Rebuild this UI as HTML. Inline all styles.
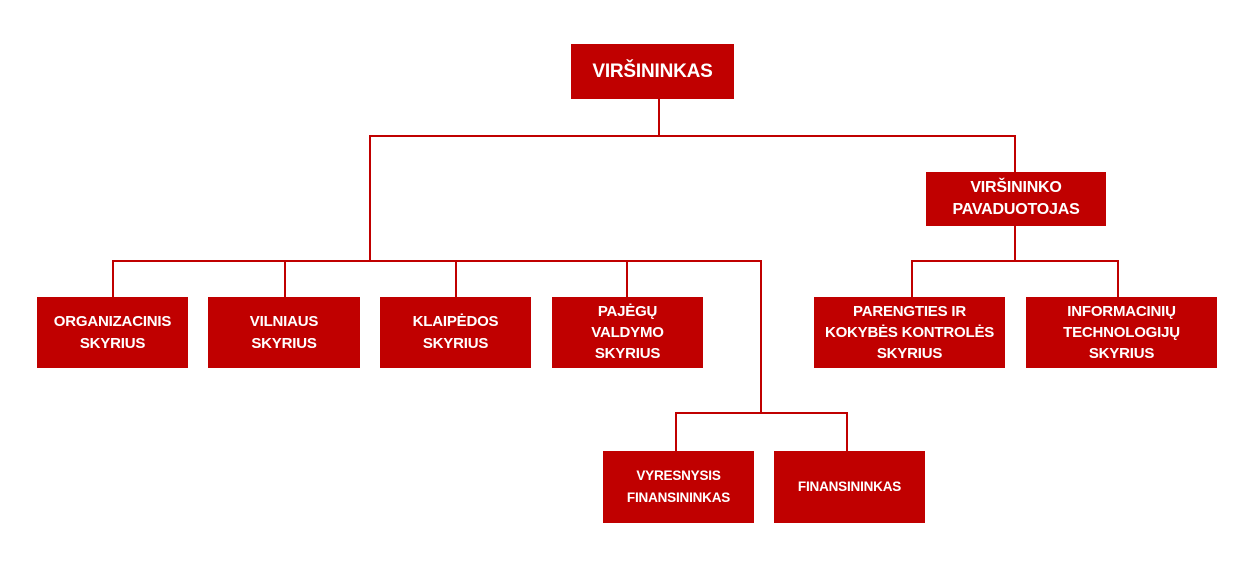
<!DOCTYPE html>
<html><head><meta charset="utf-8"><style>
body{margin:0;width:1250px;height:571px;background:#fff;position:relative;overflow:hidden;font-family:"Liberation Sans",sans-serif;}
.b{position:absolute;background:#c00000;color:#fff;font-weight:bold;font-size:15px;line-height:22px;display:flex;align-items:center;justify-content:center;text-align:center;box-sizing:border-box;letter-spacing:-0.2px;}
.t{line-height:21px;}
.h{position:absolute;background:#c00000;height:2px;}
.v{position:absolute;background:#c00000;width:2px;}
</style></head><body>
<div class="b" style="left:571px;top:44px;width:163px;height:55px;font-size:19px">VIRŠININKAS</div>
<div class="v" style="left:658px;top:99px;height:38px"></div>
<div class="h" style="left:369px;top:135px;width:647px"></div>
<div class="v" style="left:1014px;top:135px;height:37px"></div>
<div class="b" style="left:926px;top:172px;width:180px;height:54px;font-size:16px">VIRŠININKO<br>PAVADUOTOJAS</div>
<div class="v" style="left:1014px;top:226px;height:36px"></div>
<div class="h" style="left:911px;top:260px;width:208px"></div>
<div class="v" style="left:911px;top:260px;height:37px"></div>
<div class="v" style="left:1117px;top:260px;height:37px"></div>
<div class="v" style="left:369px;top:135px;height:127px"></div>
<div class="h" style="left:112px;top:260px;width:650px"></div>
<div class="v" style="left:112px;top:260px;height:37px"></div>
<div class="v" style="left:284px;top:260px;height:37px"></div>
<div class="v" style="left:455px;top:260px;height:37px"></div>
<div class="v" style="left:626px;top:260px;height:37px"></div>
<div class="v" style="left:760px;top:260px;height:154px"></div>
<div class="h" style="left:675px;top:412px;width:173px"></div>
<div class="v" style="left:675px;top:412px;height:39px"></div>
<div class="v" style="left:846px;top:412px;height:39px"></div>
<div class="b" style="left:37px;top:297px;width:151px;height:71px">ORGANIZACINIS<br>SKYRIUS</div>
<div class="b" style="left:208px;top:297px;width:152px;height:71px">VILNIAUS<br>SKYRIUS</div>
<div class="b" style="left:380px;top:297px;width:151px;height:71px">KLAIPĖDOS<br>SKYRIUS</div>
<div class="b t" style="left:552px;top:297px;width:151px;height:71px">PAJĖGŲ<br>VALDYMO<br>SKYRIUS</div>
<div class="b t" style="left:814px;top:297px;width:191px;height:71px">PARENGTIES IR<br>KOKYBĖS KONTROLĖS<br>SKYRIUS</div>
<div class="b t" style="left:1026px;top:297px;width:191px;height:71px">INFORMACINIŲ<br>TECHNOLOGIJŲ<br>SKYRIUS</div>
<div class="b" style="left:603px;top:451px;width:151px;height:72px;font-size:13.5px">VYRESNYSIS<br>FINANSININKAS</div>
<div class="b" style="left:774px;top:451px;width:151px;height:72px;font-size:13.5px">FINANSININKAS</div>
</body></html>
